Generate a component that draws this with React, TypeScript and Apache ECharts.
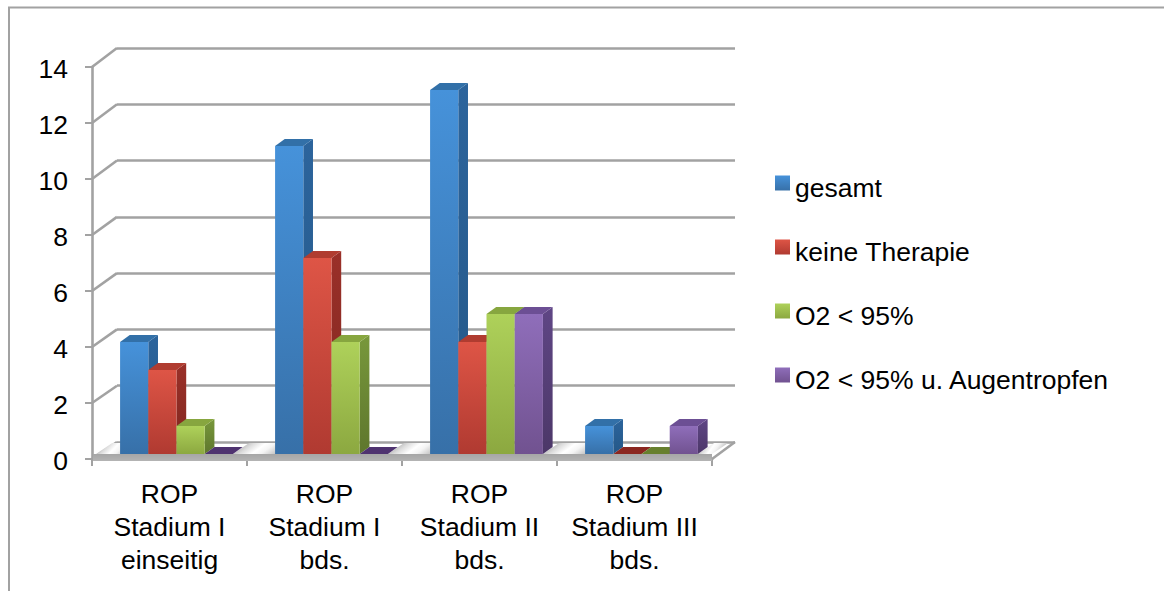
import React, { useEffect, useRef } from "react";
import * as echarts from "echarts";

const categories = [
  "ROP\nStadium I\neinseitig",
  "ROP\nStadium I\nbds.",
  "ROP\nStadium II\nbds.",
  "ROP\nStadium III\nbds.",
];
const gesamt = [4, 11, 13, 1];
const keineTherapie = [3, 7, 4, 0];
const o2 = [1, 4, 5, 0];
const o2Tropfen = [0, 0, 5, 1];
const seriesNames = ["gesamt", "keine Therapie", "O2 < 95%", "O2 < 95% u. Augentropfen"];
const wallTicks = [0, 2, 4, 6, 8, 10, 12, 14];

const FONT = "'Liberation Sans', Arial, sans-serif";
const GRID_GRAY = "#a2a2a2";
const GRID_WIDTH = 2.6;
const TEXT_SIZE = 26.5;

// Oblique extrusion of each column.
const DEPTH_X = 9.7;
const DEPTH_Y = 7;
const BAR_SHARE = 0.182;

type Shade = { frontTop: string; frontBottom: string; sideTop: string; sideBottom: string; top: string; flat: string };
const shades: Shade[] = [
  { frontTop: "#4692da", frontBottom: "#3770a8", sideTop: "#2c649c", sideBottom: "#245888", top: "#3270a8", flat: "#2c649c" },
  { frontTop: "#de5546", frontBottom: "#b03a31", sideTop: "#9a3029", sideBottom: "#80271f", top: "#b03c30", flat: "#8b2720" },
  { frontTop: "#aed15a", frontBottom: "#8ca840", sideTop: "#78983b", sideBottom: "#5e762d", top: "#87a63f", flat: "#67802e" },
  { frontTop: "#8f6eba", frontBottom: "#715290", sideTop: "#5f4685", sideBottom: "#4c3768", top: "#6c4f94", flat: "#4f3370" },
];

const vGrad = (a: string, b: string) =>
  new echarts.graphic.LinearGradient(0, 0, 0, 1, [
    { offset: 0, color: a },
    { offset: 1, color: b },
  ]);

// One 3D column: side, top and front faces, all from the value scale.
const columnRenderer = (seriesIndex: number) => (_params: any, api: any) => {
  const cat = api.value(0);
  const val = api.value(1);
  const band = api.size([1, 0])[0];
  const w = band * BAR_SHARE;
  const top = api.coord([cat, val]);
  const base = api.coord([cat, 0]);
  const x0 = top[0] - 2 * w + seriesIndex * w;
  const x1 = x0 + w;
  const s = shades[seriesIndex];
  const children: any[] = [];
  if (val > 0) {
    children.push({
      type: "polygon",
      shape: { points: [[x1, top[1]], [x1 + DEPTH_X, top[1] - DEPTH_Y], [x1 + DEPTH_X, base[1] - DEPTH_Y], [x1, base[1]]] },
      style: { fill: vGrad(s.sideTop, s.sideBottom) },
    });
  }
  children.push({
    type: "polygon",
    shape: { points: [[x0, top[1]], [x1, top[1]], [x1 + DEPTH_X, top[1] - DEPTH_Y], [x0 + DEPTH_X, top[1] - DEPTH_Y]] },
    style: { fill: val > 0 ? s.top : s.flat },
  });
  if (val > 0) {
    children.push({
      type: "rect",
      shape: { x: x0, y: top[1], width: w, height: base[1] - top[1] },
      style: { fill: vGrad(s.frontTop, s.frontBottom) },
    });
  }
  return { type: "group", children };
};

// Diagonal connectors between the value axis and the back wall.
const wallRenderer = (params: any, api: any) => {
  const v = api.value(0);
  const back = api.coord([0, v]);
  const bx = params.coordSys.x;
  const y = back[1];
  const fy = y + 17 + (2 * v) / 14;
  return {
    type: "line",
    shape: { x1: bx, y1: y, x2: bx - 25, y2: fy },
    style: { stroke: GRID_GRAY, lineWidth: GRID_WIDTH },
  };
};

// Floor plate with soft shading in the gaps between the column groups.
const floorRenderer = (params: any, api: any) => {
  const gap = api.value(0);
  const sys = params.coordSys;
  const band = sys.width / categories.length;
  const y0 = sys.y + sys.height;
  const half = 2 * band * BAR_SHARE;
  const left = gap === 0 ? sys.x - 3 : sys.x + band * (gap - 0.5) + half;
  const right = gap === categories.length ? sys.x + sys.width - 7 : sys.x + band * (gap + 0.5) - half;
  const rise = 11;
  const run = rise * (25 / 17);
  const shade = new echarts.graphic.LinearGradient(0, 0.37, 1, 0.63, [
    { offset: 0, color: "#9e9e9e" },
    { offset: 0.25, color: "#dcdcdc" },
    { offset: 0.45, color: "#ffffff" },
    { offset: 0.6, color: "#f4f4f4" },
    { offset: 0.85, color: "#c0c0c0" },
    { offset: 1, color: "#989898" },
  ]);
  return {
    type: "polygon",
    shape: { points: [[left, y0], [right, y0], [right + run, y0 - rise], [left + run, y0 - rise]] },
    style: { fill: shade },
  };
};

// Front band and right edge of the floor.
const floorEdgeRenderer = (params: any) => {
  const sys = params.coordSys;
  const fy = sys.y + sys.height;
  return {
    type: "group",
    children: [
      {
        type: "rect",
        shape: { x: sys.x + 1, y: fy - 5, width: sys.width - 1, height: 7 },
        style: { fill: vGrad("#a6a6a6", "#b4b4b4") },
      },
      {
        type: "line",
        shape: { x1: sys.x + sys.width, y1: fy, x2: sys.x + sys.width + 23, y2: fy - 17 },
        style: { stroke: GRID_GRAY, lineWidth: GRID_WIDTH },
      },
    ],
  };
};

const valueRows = [gesamt, keineTherapie, o2, o2Tropfen];

export default function App() {
  const ref = useRef<HTMLDivElement>(null);
  useEffect(() => {
    if (!ref.current) return;
    const chart = echarts.init(ref.current, undefined, { renderer: "svg" });
    const gapIndices = categories.map((_, i) => [i]).concat([[categories.length]]);
    chart.setOption({
      animation: false,
      backgroundColor: "#ffffff",
      textStyle: { fontFamily: FONT },
      graphic: [
        {
          type: "polyline",
          silent: true,
          shape: { points: [[9, 591], [9, 7.5], [1164, 7.5]] },
          style: { stroke: GRID_GRAY, lineWidth: 2, fill: "none" },
        },
      ],
      grid: [
        { left: 92, top: 67, width: 620, height: 392 },
        { left: 117, top: 48, width: 618, height: 394 },
        { left: 99, top: 62, width: 620, height: 392 },
      ],
      xAxis: [
        {
          gridIndex: 0,
          type: "category",
          data: categories,
          axisLine: { lineStyle: { color: GRID_GRAY, width: GRID_WIDTH } },
          axisTick: { show: true, length: 7, lineStyle: { color: GRID_GRAY, width: 2 } },
          axisLabel: { color: "#000", fontSize: TEXT_SIZE, fontFamily: FONT, lineHeight: 33, margin: 18, interval: 0 },
          splitLine: { show: false },
        },
        { gridIndex: 1, type: "category", data: categories, show: false },
        { gridIndex: 2, type: "category", data: categories, show: false },
      ],
      yAxis: [
        {
          gridIndex: 0,
          type: "value",
          min: 0,
          max: 14,
          interval: 2,
          axisLine: { show: true, lineStyle: { color: GRID_GRAY, width: GRID_WIDTH } },
          axisTick: { show: true, length: 7, lineStyle: { color: GRID_GRAY, width: 2 } },
          axisLabel: {
            margin: 24,
            formatter: "{n|{value}}",
            rich: { n: { color: "#000", fontSize: TEXT_SIZE, fontFamily: FONT, padding: [4, 0, 0, 0] } },
          },
          splitLine: { show: false },
        },
        {
          gridIndex: 1,
          type: "value",
          min: 0,
          max: 14,
          interval: 2,
          axisLine: { show: false },
          axisTick: { show: false },
          axisLabel: { show: false },
          splitLine: { show: true, lineStyle: { color: GRID_GRAY, width: GRID_WIDTH } },
        },
        { gridIndex: 2, type: "value", min: 0, max: 14, interval: 2, show: false },
      ],
      legend: {
        orient: "vertical",
        left: 770,
        top: 169,
        icon: "rect",
        itemWidth: 15,
        itemHeight: 15,
        itemGap: 37,
        selectedMode: false,
        data: seriesNames,
        formatter: "{t|{name}}",
        textStyle: {
          rich: { t: { color: "#000", fontSize: TEXT_SIZE, fontFamily: FONT, padding: [9, 0, 0, 0] } },
        },
      },
      series: [
        {
          type: "custom",
          name: "wall",
          xAxisIndex: 1,
          yAxisIndex: 1,
          silent: true,
          data: wallTicks.map((v) => [v]),
          encode: { y: 0 },
          renderItem: wallRenderer,
        },
        {
          type: "custom",
          name: "floor",
          xAxisIndex: 2,
          yAxisIndex: 2,
          silent: true,
          data: gapIndices,
          renderItem: floorRenderer,
        },
        {
          type: "custom",
          name: "floorEdge",
          xAxisIndex: 0,
          yAxisIndex: 0,
          silent: true,
          data: [[0]],
          renderItem: floorEdgeRenderer,
        },
        ...seriesNames.map((name, i) => ({
          type: "custom",
          name,
          xAxisIndex: 2,
          yAxisIndex: 2,
          silent: true,
          itemStyle: { color: vGrad(shades[i].frontTop, shades[i].frontBottom) },
          data: valueRows[i].map((v, c) => [c, v]),
          encode: { x: 0, y: 1 },
          renderItem: columnRenderer(i),
        })),
      ],
    });
    return () => chart.dispose();
  }, []);
  return <div ref={ref} style={{ position: "absolute", left: 0, top: 0, width: 1164, height: 591 }} />;
}
